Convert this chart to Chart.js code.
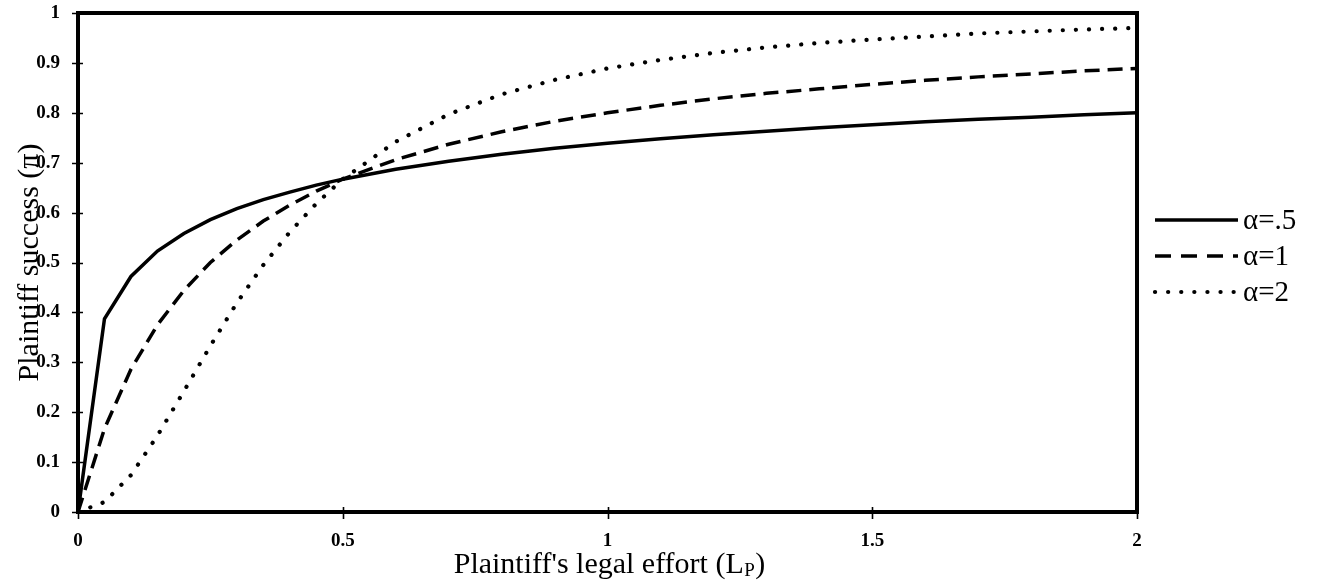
<!DOCTYPE html>
<html>
<head>
<meta charset="utf-8">
<script src="https://cdn.jsdelivr.net/npm/chart.js@4/dist/chart.umd.min.js"></script>
<style>
  html, body { margin: 0; padding: 0; background: #fff; }
  canvas { display: block; }
</style>
</head>
<body>
<canvas id="c" width="1318" height="586"></canvas>
<script>
// ---- data ----
const effort = [0, 0.05, 0.1, 0.15, 0.2, 0.25, 0.3, 0.35, 0.4, 0.45, 0.5, 0.6, 0.7, 0.8, 0.9, 1.0, 1.1, 1.2, 1.3, 1.4, 1.5, 1.6, 1.7, 1.8, 1.9, 2.0];
const successHalf = [0, 0.387, 0.472, 0.523, 0.558, 0.586, 0.608, 0.626, 0.641, 0.655, 0.667, 0.687, 0.703, 0.717, 0.729, 0.739, 0.748, 0.756, 0.763, 0.770, 0.776, 0.782, 0.787, 0.791, 0.796, 0.800];
const successOne  = [0, 0.167, 0.286, 0.375, 0.444, 0.500, 0.545, 0.583, 0.615, 0.643, 0.667, 0.706, 0.737, 0.762, 0.783, 0.800, 0.815, 0.828, 0.839, 0.848, 0.857, 0.865, 0.872, 0.878, 0.884, 0.889];
const successTwo  = [0, 0.020, 0.074, 0.153, 0.242, 0.333, 0.419, 0.495, 0.561, 0.618, 0.667, 0.742, 0.797, 0.837, 0.866, 0.889, 0.906, 0.920, 0.931, 0.940, 0.947, 0.953, 0.959, 0.963, 0.967, 0.970];
const seriesLabels = ['\u03B1=.5', '\u03B1=1', '\u03B1=2'];
const xTickValues = [0, 0.5, 1, 1.5, 2];
const xTickLabels = ['0', '0.5', '1', '1.5', '2'];
const yTickValues = [0, 0.1, 0.2, 0.3, 0.4, 0.5, 0.6, 0.7, 0.8, 0.9, 1];
const yTickLabels = ['0', '0.1', '0.2', '0.3', '0.4', '0.5', '0.6', '0.7', '0.8', '0.9', '1'];
const xTitleMain = "Plaintiff's legal effort (L";
const xTitleSub = 'P';
const xTitleEnd = ')';
const yTitle = 'Plaintiff success (\u03C0)';

const SERIF = "'Liberation Serif', 'Times New Roman', serif";

function toPoints(ys) { return effort.map((x, i) => ({ x: x, y: ys[i] })); }

const frameAndTicks = {
  id: 'frameAndTicks',
  afterDatasetsDraw(chart) {
    const { ctx, chartArea: a, scales: { x, y } } = chart;
    ctx.save();
    ctx.strokeStyle = '#000';
    ctx.lineWidth = 1.6;
    ctx.beginPath();
    y.ticks.forEach(t => {
      const py = Math.round(y.getPixelForValue(t.value)) + 0.5;
      ctx.moveTo(a.left - 6, py); ctx.lineTo(a.left + 5, py);
    });
    x.ticks.forEach(t => {
      const px = Math.round(x.getPixelForValue(t.value)) + 0.5;
      ctx.moveTo(px, a.bottom - 5); ctx.lineTo(px, a.bottom + 7);
    });
    ctx.stroke();
    ctx.lineWidth = 4;
    ctx.strokeRect(a.left, a.top, a.right - a.left, a.bottom - a.top);
    ctx.restore();
  },
  afterDraw(chart) {
    const { ctx, chartArea: a } = chart;
    ctx.save();
    // x axis title with subscript
    const big = '30px ' + SERIF, small = '19px ' + SERIF;
    ctx.fillStyle = '#000';
    ctx.textBaseline = 'alphabetic';
    ctx.textAlign = 'left';
    ctx.font = big;
    const w1 = ctx.measureText(xTitleMain).width;
    const w3 = ctx.measureText(xTitleEnd).width;
    ctx.font = small;
    const w2 = ctx.measureText(xTitleSub).width;
    const total = w1 + w2 + 1 + w3;
    let sx = (a.left + a.right) / 2 - total / 2 + 2;
    const base = 573;
    ctx.font = big; ctx.fillText(xTitleMain, sx, base);
    ctx.font = small; ctx.fillText(xTitleSub, sx + w1 + 0.5, base + 3);
    ctx.font = big; ctx.fillText(xTitleEnd, sx + w1 + w2 + 1, base);

    // legend
    const rows = [220, 256, 292];
    const x0 = 1155, x1 = 1238;
    chart.data.datasets.forEach((ds, i) => {
      const yy = rows[i];
      ctx.save();
      ctx.strokeStyle = ds.borderColor;
      ctx.lineWidth = ds.borderWidth;
      ctx.lineCap = ds.borderCapStyle || 'butt';
      ctx.setLineDash(ds.legendDash || ds.borderDash || []);
      ctx.beginPath();
      ctx.moveTo(x0, yy); ctx.lineTo(x1, yy);
      ctx.stroke();
      ctx.restore();
      ctx.font = '29px ' + SERIF;
      ctx.textBaseline = 'middle';
      ctx.fillStyle = '#000';
      ctx.fillText(ds.label, 1243, yy + 1);
    });
    ctx.restore();
  }
};

new Chart(document.getElementById('c'), {
  type: 'line',
  data: {
    datasets: [
      { label: seriesLabels[0], data: toPoints(successHalf), borderColor: '#000', backgroundColor: '#000', borderWidth: 3.5, borderDash: [], pointRadius: 0, fill: false, tension: 0 },
      { label: seriesLabels[1], data: toPoints(successOne), borderColor: '#000', backgroundColor: '#000', borderWidth: 3.5, borderDash: [15, 8], legendDash: [16, 10], pointRadius: 0, fill: false, tension: 0 },
      { label: seriesLabels[2], data: toPoints(successTwo), borderColor: '#000', backgroundColor: '#000', borderWidth: 4.2, borderDash: [0.1, 13], borderCapStyle: 'round', pointRadius: 0, fill: false, tension: 0 }
    ]
  },
  options: {
    responsive: false,
    animation: false,
    devicePixelRatio: 1,
    layout: { padding: { left: 0, top: 13, right: 181, bottom: 0 } },
    plugins: { legend: { display: false }, tooltip: { enabled: false } },
    scales: {
      x: {
        type: 'linear', min: 0, max: 2,
        afterBuildTicks(s) { s.ticks = xTickValues.map(v => ({ value: v })); },
        afterFit(s) { s.height = 74; s.paddingLeft = 0; s.paddingRight = 0; },
        grid: { display: false, drawTicks: false },
        border: { display: false },
        ticks: {
          color: '#000', font: { family: SERIF, size: 19, weight: 'bold' }, padding: 18, maxRotation: 0,
          callback: (v, i) => xTickLabels[i]
        },
        title: { display: false }
      },
      y: {
        type: 'linear', min: 0, max: 1,
        afterBuildTicks(s) { s.ticks = yTickValues.map(v => ({ value: v })); },
        afterFit(s) { s.width = 78; s.paddingTop = 0; s.paddingBottom = 0; },
        grid: { display: false, drawTicks: false },
        border: { display: false },
        ticks: {
          color: '#000', font: { family: SERIF, size: 19, weight: 'bold' }, padding: 18,
          callback: (v, i) => yTickLabels[i]
        },
        title: { display: true, text: yTitle, color: '#000', font: { family: SERIF, size: 30 }, padding: { top: 12, bottom: 0 } }
      }
    }
  },
  plugins: [frameAndTicks]
});
</script>
</body>
</html>
